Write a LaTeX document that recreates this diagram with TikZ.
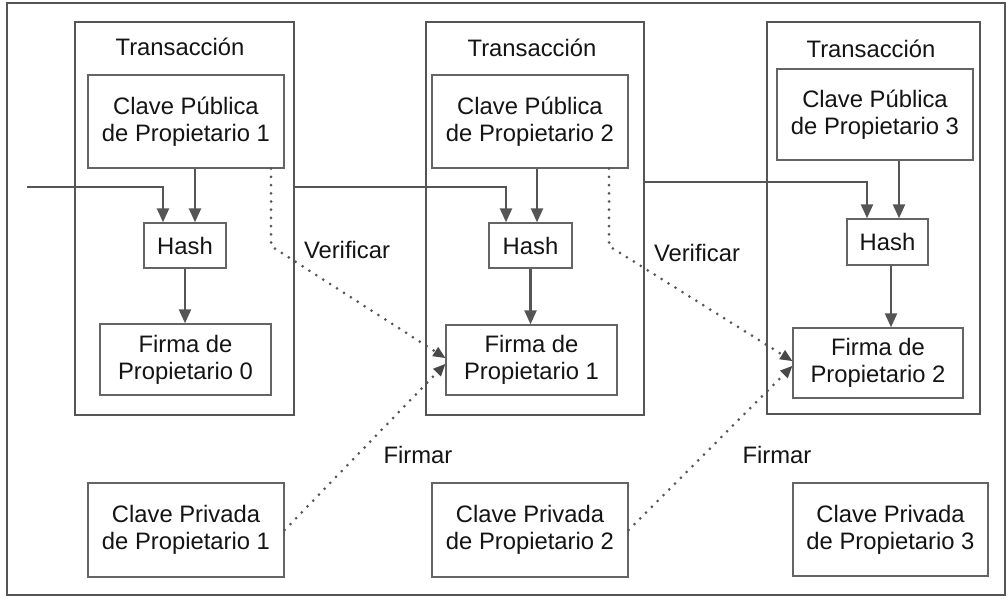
\documentclass[tikz,border=0pt]{standalone}
\usepackage{fontspec}
\setmainfont{Liberation Sans}
\usetikzlibrary{arrows.meta}
\definecolor{lg}{RGB}{85,85,85}
\definecolor{bx}{RGB}{100,100,100}
\definecolor{tx}{RGB}{20,20,20}
\begin{document}
\begin{tikzpicture}[x=1pt,y=-1pt,
  frame/.style={draw=lg,line width=2.4pt},
  inbox/.style={draw=bx,line width=1.4pt,inner sep=0pt,align=center,text=tx,
     font=\fontsize{23.8}{27}\selectfont},
  lbl/.style={inner sep=0pt,text=tx,font=\fontsize{23.8}{27}\selectfont},
  arr/.style={draw=lg,line width=2.4pt,-{Triangle[length=14pt,width=12pt]}},
  dotl/.style={draw=lg,line width=3pt,line cap=round,dash pattern=on 0pt off 8.2pt,
     -{Triangle[length=12pt,width=11pt,fill=lg!85!black,line width=0pt]}},
]
\useasboundingbox (0,0) rectangle (1008,599);
\fill[white] (0,0) rectangle (1008,599);
% outer frame
\draw[frame] (7,3) rectangle (1005,595);
% transaction boxes
\node[frame,minimum width=219pt,minimum height=393pt,inner sep=0pt] (t1) at (184.5,218.5) {};
\node[frame,minimum width=218pt,minimum height=393pt,inner sep=0pt] (t2) at (535,218.5) {};
\node[frame,minimum width=213pt,minimum height=392pt,inner sep=0pt] (t3) at (873.5,218) {};
\node[lbl] (tl1) at (180,47) {Transacción};
\node[lbl] (tl2) at (532,48) {Transacción};
\node[lbl] (tl3) at (871,49) {Transacción};
% public keys
\node[inbox,minimum width=196pt,minimum height=93pt] (cp1) at (186,121.5) {Clave Pública\\de Propietario 1};
\node[inbox,minimum width=196pt,minimum height=93pt] (cp2) at (530,121.5) {Clave Pública\\de Propietario 2};
\node[inbox,minimum width=196pt,minimum height=91pt] (cp3) at (875,114.5) {Clave Pública\\de Propietario 3};
% hashes
\node[inbox,minimum width=82pt,minimum height=45pt] (h1) at (185,245.5) {Hash};
\node[inbox,minimum width=83pt,minimum height=45pt] (h2) at (530.5,245.5) {Hash};
\node[inbox,minimum width=81pt,minimum height=46pt] (h3) at (887.5,242) {Hash};
% signatures
\node[inbox,minimum width=171pt,minimum height=71pt] (f0) at (185.5,359.5) {Firma de\\Propietario 0};
\node[inbox,minimum width=171pt,minimum height=70pt] (f1) at (531.5,360) {Firma de\\Propietario 1};
\node[inbox,minimum width=170pt,minimum height=70pt] (f2) at (878,363) {Firma de\\Propietario 2};
% private keys
\node[inbox,minimum width=196pt,minimum height=94pt] (pr1) at (186,530) {Clave Privada\\de Propietario 1};
\node[inbox,minimum width=196pt,minimum height=94pt] (pr2) at (530,530) {Clave Privada\\de Propietario 2};
\node[inbox,minimum width=195pt,minimum height=93pt] (pr3) at (890.5,529.5) {Clave Privada\\de Propietario 3};
% labels
\node[lbl] (v1) at (347,250) {Verificar};
\node[lbl] (v2) at (697,253) {Verificar};
\node[lbl] (s1) at (418,455) {Firmar};
\node[lbl] (s2) at (777,455) {Firmar};
% chain connectors
\coordinate (in0) at (27,187);
\coordinate (j0) at (163,187);
\coordinate (j1) at (506,187);
\coordinate (j2) at (867,182);
\draw[arr] (in0) -- (j0) -- (h1.north -| j0);
\draw[arr] (t1.east |- j1) -- (j1) -- (h2.north -| j1);
\draw[arr] (t2.east |- j2) -- (j2) -- (h3.north -| j2);
\draw[arr] (cp1.south -| 195,0) -- (h1.north -| 195,0);
\draw[arr] (cp2.south -| 537,0) -- (h2.north -| 537,0);
\draw[arr] (cp3.south -| 899,0) -- (h3.north -| 899,0);
\draw[arr] (h1.south) -- (f0.north -| h1.south);
\draw[arr] (h2.south) -- (f1.north -| h2.south);
\draw[arr] (h3.south -| 891,0) -- (f2.north -| 891,0);
% dotted verify / sign
\coordinate (b1) at (271,246);
\coordinate (b2) at (609,246);
\draw[dotl] (cp1.south -| b1) -- (b1) -- ([yshift=2pt]f1.west);
\draw[dotl] (pr1.east) -- ([yshift=-4pt]f1.west);
\draw[dotl] (cp2.south -| b2) -- (b2) -- ([yshift=2pt]f2.west);
\draw[dotl] (pr2.east) -- ([yshift=-3pt]f2.west);
\end{tikzpicture}
\end{document}
